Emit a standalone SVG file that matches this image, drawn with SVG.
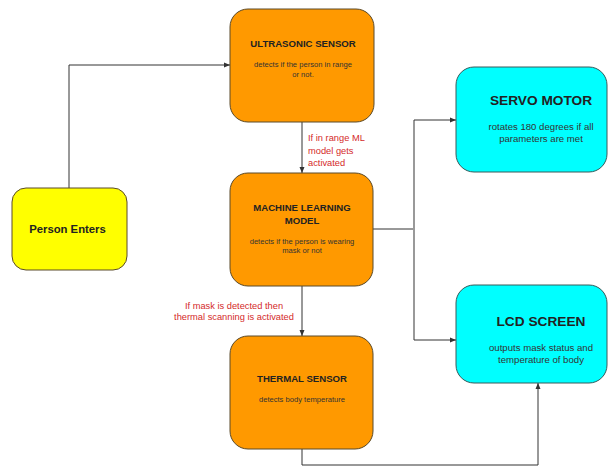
<svg xmlns="http://www.w3.org/2000/svg" width="609" height="466" viewBox="0 0 609 466">
<defs>
<style>
.node{stroke:#5a4a2a;stroke-width:1}
.orange{fill:#ff9900}
.cyan{fill:#00ffff;stroke:#3a5a5a}
.yellow{fill:#ffff00}
text{font-family:"Liberation Sans",Arial,sans-serif;text-anchor:middle;fill:#222}
.t{font-weight:bold;font-size:9.6px}
.d{font-size:7.6px;fill:#333}
.tb{font-weight:bold;font-size:13.7px}
.db{font-size:9.6px;fill:#333}
.red{fill:#d42a2a;font-size:9.3px}
.c{fill:none;stroke:#333;stroke-width:1}
.g{fill:none;stroke:#999;stroke-width:2}
</style>
<marker id="ah" viewBox="0 0 6 6" refX="6" refY="3" markerWidth="6" markerHeight="6" orient="auto" markerUnits="userSpaceOnUse">
<path d="M0,0.5 L6,3 L0,5.5 z" fill="#333"/>
</marker>
</defs>
<rect width="609" height="466" fill="#ffffff"/>
<g id="connectors">
<path class="c" d="M69,188 V65 H230" marker-end="url(#ah)"/>
<path class="c" d="M302,122 V173" marker-end="url(#ah)"/>
<path class="c" d="M302,286 V336" marker-end="url(#ah)"/>
<path class="c" d="M373,229 H414"/>
<path class="g" d="M414,120 V340"/>
<path class="c" d="M414,120 H456" marker-end="url(#ah)"/>
<path class="c" d="M414,340 H456" marker-end="url(#ah)"/>
<path class="c" d="M302,449 V465 H538 V383" marker-end="url(#ah)"/>
<text class="red" x="308" y="141" style="text-anchor:start">If in range ML</text>
<text class="red" x="308" y="154" style="text-anchor:start">model gets</text>
<text class="red" x="308" y="166" style="text-anchor:start">activated</text>
<text class="red" x="234" y="309">If mask is detected then</text>
<text class="red" x="234" y="320">thermal scanning is activated</text>
</g>
<g id="ultrasonic">
<rect class="node orange" x="230" y="9" width="144" height="113" rx="18"/>
<text class="t" x="303" y="47">ULTRASONIC SENSOR</text>
<text class="d" x="303" y="67">detects if the person in range</text>
<text class="d" x="303" y="77">or not.</text>
</g>
<g id="ml">
<rect class="node orange" x="230" y="173" width="143" height="113" rx="18"/>
<text class="t" x="302" y="210.5">MACHINE LEARNING</text>
<text class="t" x="302" y="224">MODEL</text>
<text class="d" x="302" y="244">detects if the person is wearing</text>
<text class="d" x="302" y="253">mask or not</text>
</g>
<g id="thermal">
<rect class="node orange" x="230" y="336" width="143" height="113" rx="18"/>
<text class="t" x="302" y="381.5">THERMAL SENSOR</text>
<text class="d" x="302" y="402">detects body temperature</text>
</g>
<g id="person">
<rect class="node yellow" x="12" y="188" width="115" height="82" rx="14"/>
<text class="t" x="67.5" y="233" style="font-size:11.3px">Person Enters</text>
</g>
<g id="servo">
<rect class="node cyan" x="456" y="67" width="151" height="105" rx="18"/>
<text class="tb" x="541" y="105">SERVO MOTOR</text>
<text class="db" x="541" y="130">rotates 180 degrees if all</text>
<text class="db" x="541" y="142">parameters are met</text>
</g>
<g id="lcd">
<rect class="node cyan" x="456" y="285" width="151" height="98" rx="18"/>
<text class="tb" x="541" y="326">LCD SCREEN</text>
<text class="db" x="541" y="351">outputs mask status and</text>
<text class="db" x="541" y="363">temperature of body</text>
</g>
</svg>
